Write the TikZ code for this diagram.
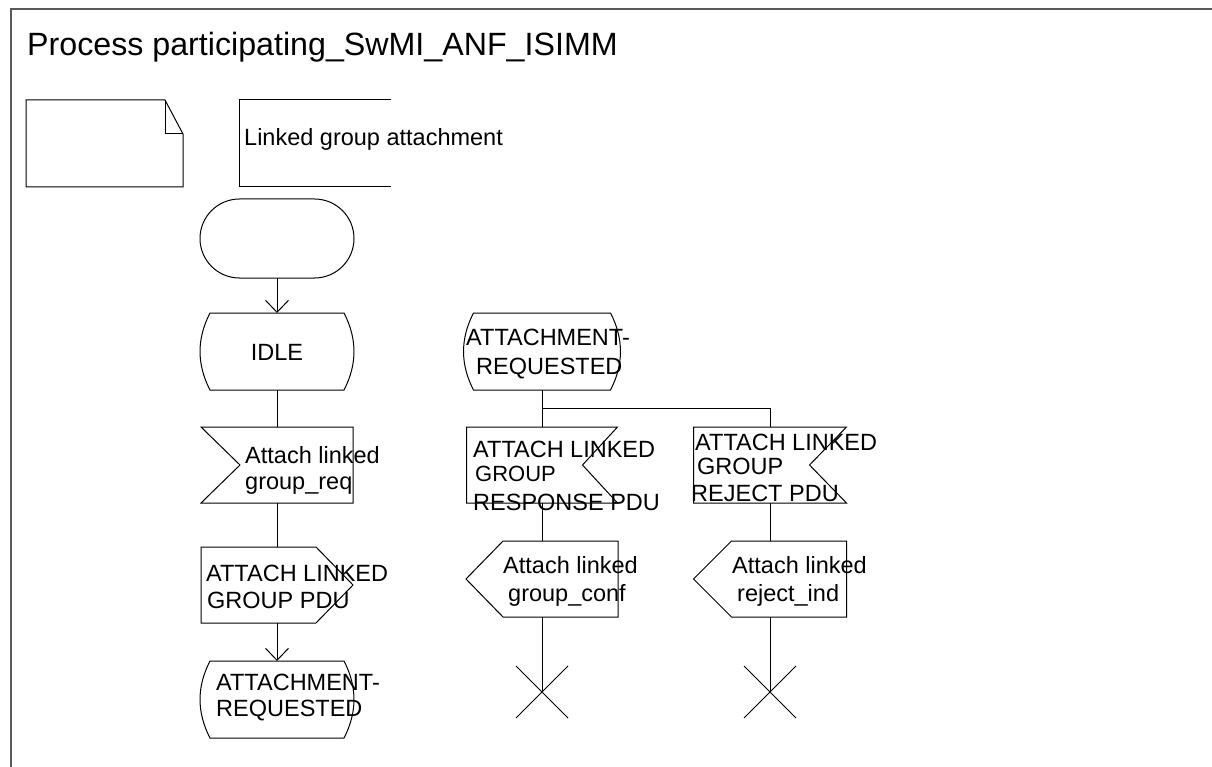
\documentclass[tikz,border=0pt]{standalone}
\usepackage{fontspec}
\setmainfont{Liberation Sans}
\usetikzlibrary{arrows.meta,shapes.misc,calc}

\newcommand\sdlstate[1]{\draw[sym] ($(#1.north west)+(10,0)$) -- ($(#1.north east)+(-10,0)$) .. controls ($(#1.north east)+(3.3,25.7)$) and ($(#1.south east)+(3.3,-25.7)$) .. ($(#1.south east)+(-10,0)$) -- ($(#1.south west)+(10,0)$) .. controls ($(#1.south west)+(-3.3,-25.7)$) and ($(#1.north west)+(-3.3,25.7)$) .. ($(#1.north west)+(10,0)$) -- cycle;}
\newcommand\sdlinleft[2]{\draw[sym] (#1.north west) -- (#1.north east) -- (#1.south east) -- (#1.south west) -- ($(#1.west)+(#2,0)$) -- cycle;}
\newcommand\sdlinright[2]{\draw[sym] (#1.north west) -- (#1.north east) -- ($(#1.east)+(-#2,0)$) -- (#1.south east) -- (#1.south west) -- cycle;}
\newcommand\sdloutright[2]{\draw[sym] (#1.north west) -- ($(#1.north east)+(-#2,0)$) -- (#1.east) -- ($(#1.south east)+(-#2,0)$) -- (#1.south west) -- cycle;}
\newcommand\sdloutleft[2]{\draw[sym] (#1.west) -- ($(#1.north west)+(#2,0)$) -- (#1.north east) -- (#1.south east) -- ($(#1.south west)+(#2,0)$) -- cycle;}

\begin{document}
\begin{tikzpicture}[x=1pt,y=-1pt,
  frm/.style={draw=none, rectangle, inner sep=0pt, outer sep=0pt},
  sym/.style={line width=1pt, line join=miter},
  lbl/.style={font=\fontsize{23.5}{26}\selectfont, anchor=base west, inner sep=0pt},
  conn/.style={line width=1pt},
  arr/.style={conn, -{Straight Barb[length=12pt,width=23pt]}},
  stopx/.style={cross out, draw, line width=1pt, minimum size=52pt, inner sep=0pt, outer sep=0pt},
]
\useasboundingbox (0,0) rectangle (1212,767);
% frame
\draw[line width=2pt, black!65] (1212,9.5) -- (10.5,9.5) -- (10.5,767);
\node[font=\fontsize{32.2}{36}\selectfont, anchor=base west, inner sep=0pt] (title) at (27,56) {Process participating\_SwMI\_ANF\_ISIMM};

% note symbol
\node[frm, minimum width=157pt, minimum height=87pt] (note) at (104.5,143.5) {};
\draw[sym] (note.north west) -- ($(note.north east)+(-18,0)$) -- ($(note.north east)+(0,34)$) -- (note.south east) -- (note.south west) -- cycle;
\draw[sym] ($(note.north east)+(-18,0)$) -- ($(note.north east)+(-18,34)$) -- ($(note.north east)+(0,34)$);
% comment
\node[frm, minimum width=152pt, minimum height=87pt] (cmt) at (315,143.5) {};
\draw[sym] (cmt.north east) -- (cmt.north west) -- (cmt.south west) -- (cmt.south east);
\node[lbl] (cmttext) at (244,146) {Linked group attachment};

% left column
\node[frm, minimum width=154pt, minimum height=79pt] (start) at (277,238.5) {};
\draw[sym, rounded corners=39.5pt] (start.north west) rectangle (start.south east);
\node[frm, minimum width=154pt, minimum height=77pt] (idle) at (277,351.5) {};
\sdlstate{idle}
\node[lbl, anchor=base] (tidle) at (277,360) {IDLE};

\node[frm, minimum width=152pt, minimum height=76pt] (req) at (277,465) {};
\sdlinleft{req}{39}
\node[lbl] (treq1) at (245,463) {Attach linked};
\node[lbl] (treq2) at (245,489) {group\_req};

\node[frm, minimum width=152pt, minimum height=76pt] (pdu) at (277,585) {};
\sdloutright{pdu}{37}
\node[lbl] (tpdu1) at (206,581) {ATTACH LINKED};
\node[lbl] (tpdu2) at (207,608) {GROUP PDU};

\node[frm, minimum width=154pt, minimum height=77pt] (ar1) at (277,699.5) {};
\sdlstate{ar1}
\node[lbl] (tar1a) at (216,690) {ATTACHMENT-};
\node[lbl] (tar1b) at (216,716) {REQUESTED};

\draw[arr] (start) -- (idle);
\draw[conn] (idle) -- (req);
\draw[conn] (req) -- (pdu);
\draw[arr] (pdu) -- (ar1);

% middle and right columns
\node[frm, minimum width=157pt, minimum height=77pt] (ar2) at (542,351.5) {};
\sdlstate{ar2}
\node[lbl] (tar2a) at (466,345) {ATTACHMENT-};
\node[lbl] (tar2b) at (476,374) {REQUESTED};

\node[frm, minimum width=151pt, minimum height=76pt] (resp) at (542,465) {};
\sdlinright{resp}{35}
\node[lbl] (tresp1) at (473,457) {ATTACH LINKED};
\node[lbl, font=\fontsize{22}{26}\selectfont] (tresp2) at (475,481) {GROUP};
\node[lbl] (tresp3) at (473,510) {RESPONSE PDU};

\node[frm, minimum width=153pt, minimum height=76pt] (rej) at (770,465) {};
\sdlinright{rej}{37}
\node[lbl] (trej1) at (695,450) {ATTACH LINKED};
\node[lbl] (trej2) at (697,474) {GROUP};
\node[lbl] (trej3) at (691,501) {REJECT PDU};

\node[frm, minimum width=152pt, minimum height=76pt] (conf) at (542,579) {};
\sdloutleft{conf}{37}
\node[lbl] (tconf1) at (503,573) {Attach linked};
\node[lbl] (tconf2) at (508,601) {group\_conf};

\node[frm, minimum width=153pt, minimum height=76pt] (rind) at (770,579) {};
\sdloutleft{rind}{38}
\node[lbl] (trind1) at (732,573) {Attach linked};
\node[lbl] (trind2) at (737,601) {reject\_ind};

\node[stopx] (stop1) at (542,692) {};
\node[stopx] (stop2) at (770,692) {};

\coordinate (fork) at (542,408);
\draw[conn] (ar2) -- (resp);
\draw[conn] (fork) -| (rej);
\draw[conn] (resp) -- (conf);
\draw[conn] (rej) -- (rind);
\draw[conn] (conf) -- (stop1.center);
\draw[conn] (rind) -- (stop2.center);
\end{tikzpicture}
\end{document}
